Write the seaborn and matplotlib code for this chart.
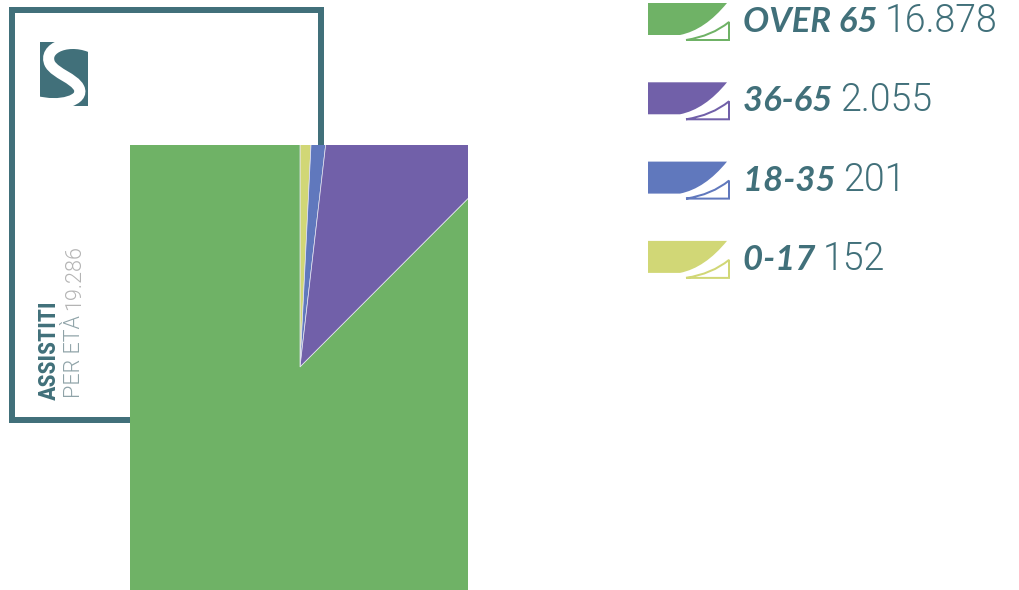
import seaborn as sns
import matplotlib.pyplot as plt
from matplotlib.patches import Rectangle, PathPatch
from matplotlib.path import Path

# dati
fasce = ["OVER 65", "36-65", "18-35", "0-17"]
assistiti = [16878, 2055, 201, 152]
colori = ["#6FB266", "#7160A9", "#6078BD", "#D1D776"]

TEAL = "#41707A"


def fmt_it(n):
    return f"{n:,}".replace(",", ".")


sns.set_theme(style="white")
palette = sns.color_palette(colori)

fig = plt.figure(figsize=(10.2, 5.9), dpi=100)
W, H = 1020, 590

# sfondo in coordinate pixel
bg = fig.add_axes([0, 0, 1, 1])
bg.set_xlim(0, W)
bg.set_ylim(H, 0)
bg.axis("off")

# cornice
bg.add_patch(Rectangle((12, 9.5), 309, 410.5, fill=False, ec=TEAL, lw=6 * 0.72))

# logo
logo = Rectangle((40, 42), 48, 64, fc=TEAL, ec="none")
bg.add_patch(logo)
verts = [(95, 49),
         (70, 36), (42, 48), (50, 64),
         (56, 74), (74, 78), (79, 88),
         (85, 100), (60, 108), (35, 101)]
codes = [Path.MOVETO] + [Path.CURVE4] * 9
s_patch = PathPatch(Path(verts, codes), fc="none", ec="white", lw=11 * 0.72, capstyle="butt")
bg.add_patch(s_patch)
s_patch.set_clip_path(logo)

# titolo verticale
bg.text(56, 400, "ASSISTITI", rotation=90, rotation_mode="anchor", ha="left", va="baseline",
        fontsize=17.5, fontweight="bold", fontstretch="condensed", color=TEAL,
        family=["Roboto Condensed", "Open Sans Condensed", "Roboto"])
t1 = bg.text(80, 398, "PER ETÀ ", rotation=90, rotation_mode="anchor", ha="left", va="baseline",
             fontsize=15.5, fontweight=300, color="#8FA3A8", family=["Roboto", "DejaVu Sans"])
fig.canvas.draw()
r = fig.canvas.get_renderer()
bb = t1.get_window_extent(r)
y_next = H - bb.y1
bg.text(80, y_next, fmt_it(sum(assistiti)), rotation=90, rotation_mode="anchor", ha="left",
        va="baseline", fontsize=15.5, fontweight=300, color="#B4B4B4",
        family=["Roboto", "DejaVu Sans"])

# legenda
step = 79.3
for i, (lab, val, col) in enumerate(zip(fasce, assistiti, palette)):
    y0 = 3 + i * step
    # forma piena
    fill_verts = [(648, y0), (727, y0), (705, y0 + 27), (680, y0 + 32), (648, y0 + 32), (648, y0)]
    fill_codes = [Path.MOVETO, Path.LINETO, Path.CURVE3, Path.CURVE3, Path.LINETO, Path.CLOSEPOLY]
    bg.add_patch(PathPatch(Path(fill_verts, fill_codes), fc=col, ec="none"))
    # triangolo a contorno
    tri_verts = [(686, y0 + 37), (729, y0 + 37), (729, y0 + 19), (712, y0 + 33), (686, y0 + 37)]
    tri_codes = [Path.MOVETO, Path.LINETO, Path.LINETO, Path.CURVE3, Path.CURVE3]
    bg.add_patch(PathPatch(Path(tri_verts, tri_codes), fc="none", ec=col, lw=2 * 0.72))

    yb = 32 + i * step
    tl = bg.text(743, yb, lab + " ", ha="left", va="baseline", fontsize=25, fontweight="bold",
                 style="italic", color=TEAL, family=["Lato", "DejaVu Sans"])
    fig.canvas.draw()
    x_next = tl.get_window_extent(r).x1
    bg.text(x_next, yb, fmt_it(val), ha="left", va="baseline", fontsize=27, fontweight=300,
            color=TEAL, family=["Roboto", "DejaVu Sans"])

# torta ritagliata nel rettangolo
ax = fig.add_axes([130 / W, 0, 338 / W, 445 / H])
ordine = [3, 2, 1, 0]
ax.pie([assistiti[k] for k in ordine], colors=[palette[k] for k in ordine], radius=1000,
       startangle=90, counterclock=False,
       wedgeprops=dict(edgecolor="#E6E6F2", linewidth=0.5, clip_on=True))
ax.set_aspect("auto")
ax.set_xlim(-170, 168)
ax.set_ylim(-223, 222)
ax.axis("off")

fig.savefig("out.png", dpi=100)
